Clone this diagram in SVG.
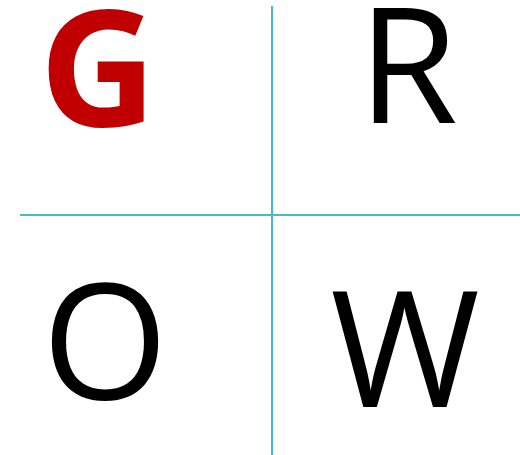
<svg xmlns="http://www.w3.org/2000/svg" width="520" height="455" viewBox="0 0 520 455">
<style>
.l{font-family:"Open Sans","Noto Sans",sans-serif;font-size:162px;text-anchor:middle;fill:#000}
.g{font-weight:bold;fill:#c00000}
.ln{stroke:#45b9d2;stroke-width:2;fill:none}
</style>
<rect width="520" height="455" fill="#fff"/>
<g id="connectors">
<line class="ln" x1="272" y1="6" x2="272" y2="455"/>
<line class="ln" x1="20" y1="215" x2="520" y2="215"/>
</g>
<g id="node-G"><text class="l g" x="98" y="126">G</text></g>
<g id="node-R"><text class="l" x="408" y="123">R</text></g>
<g id="node-O"><text class="l" x="105" y="399">O</text></g>
<g id="node-W"><text class="l" x="405" y="407">W</text></g>
</svg>
